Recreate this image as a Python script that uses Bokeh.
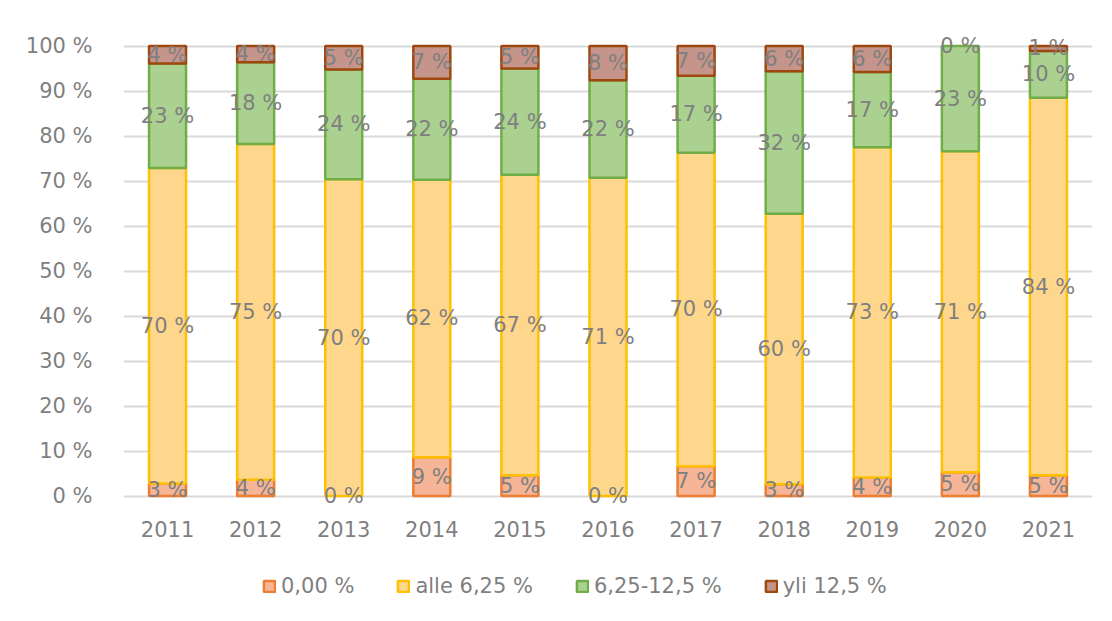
from bokeh.plotting import figure
from bokeh.layouts import column
from bokeh.models import ColumnDataSource, Range1d, FixedTicker, Legend, LegendItem, FactorRange
from bokeh.core.properties import value
from bokeh.embed import file_html
from bokeh.resources import INLINE

years = ["2011", "2012", "2013", "2014", "2015", "2016", "2017", "2018", "2019", "2020", "2021"]
series_names = ["0,00 %", "alle 6,25 %", "6,25-12,5 %", "yli 12,5 %"]
s_zero = [2.8, 3.6, 0.0, 8.6, 4.6, 0.0, 6.6, 2.6, 4.1, 5.3, 4.6]
s_alle = [70.1, 74.6, 70.4, 61.7, 66.8, 70.7, 69.7, 60.1, 73.4, 71.3, 83.9]
s_mid = [23.2, 18.2, 24.4, 22.4, 23.6, 21.7, 17.1, 31.7, 16.7, 23.4, 10.4]
s_yli = [3.9, 3.6, 5.2, 7.3, 5.0, 7.6, 6.6, 5.6, 5.8, 0.0, 1.1]
y_ticks = [0, 10, 20, 30, 40, 50, 60, 70, 80, 90, 100]

fills = ["#F5B596", "#FFD78C", "#AAD190", "#C5948A"]
lines = ["#ED7D31", "#FFC000", "#70AD47", "#9E480E"]

FONT = "DejaVu Sans"
GRAY = "#7f7f7f"

p = figure(x_range=FactorRange(*years), y_range=Range1d(-3, 103),
           width=1104, height=560, output_backend="svg", toolbar_location=None,
           min_border_left=123, min_border_right=12, min_border_top=32, min_border_bottom=51)
p.outline_line_color = None
p.background_fill_color = "white"

all_series = [s_zero, s_alle, s_mid, s_yli]
bottom = [0.0] * len(years)
sources = []
for i, ser in enumerate(all_series):
    top = [b + v for b, v in zip(bottom, ser)]
    src = ColumnDataSource(dict(
        x=years, bottom=bottom, top=top,
        la=[1.0 if v > 0 else 0.0 for v in ser],
        mid=[b + v / 2 for b, v in zip(bottom, ser)],
        lab=[f"{round(v)} %" for v in ser],
    ))
    p.vbar(x="x", bottom="bottom", top="top", width=0.42, source=src,
           fill_color=fills[i], line_color=lines[i], line_width=2.5, line_alpha="la")
    sources.append(src)
    bottom = top

for src in sources:
    p.text(x="x", y="mid", text="lab", source=src, text_font=value(FONT),
           text_font_size="21px", text_color=GRAY, text_align="center", text_baseline="middle")

p.yaxis.ticker = FixedTicker(ticks=y_ticks)
p.yaxis.major_label_overrides = {t: f"{t} %" for t in y_ticks}
p.yaxis.axis_line_color = None
p.yaxis.major_tick_line_color = None
p.yaxis.minor_tick_line_color = None
p.yaxis.major_label_text_font = FONT
p.yaxis.major_label_text_font_size = "21px"
p.yaxis.major_label_text_color = GRAY
p.yaxis.major_label_standoff = 25

p.xaxis.axis_line_color = None
p.xaxis.major_tick_line_color = None
p.xaxis.major_label_text_font = FONT
p.xaxis.major_label_text_font_size = "21px"
p.xaxis.major_label_text_color = GRAY
p.xaxis.major_label_standoff = 5

p.xgrid.grid_line_color = None
p.ygrid.grid_line_color = "#d9d9d9"
p.ygrid.grid_line_width = 2
p.ygrid.ticker = FixedTicker(ticks=y_ticks)

# legend strip
p2 = figure(width=1104, height=53, output_backend="svg", toolbar_location=None,
            x_range=Range1d(0, 1), y_range=Range1d(0, 1), min_border=0)
p2.outline_line_color = None
p2.axis.visible = False
p2.grid.visible = False
items = []
for i, name in enumerate(series_names):
    # tiny proxy glyph hidden under the opaque legend box; only its style is used by the legend
    r = p2.vbar(x=[0.5], bottom=[0.5], top=[0.5001], width=0.0001,
                fill_color=fills[i], line_color=lines[i], line_width=2.5)
    items.append(LegendItem(label=name, renderers=[r]))
legend = Legend(items=items, orientation="horizontal", location=(139, 15),
                glyph_width=14, glyph_height=14, label_standoff=5, spacing=42,
                label_text_font=FONT, label_text_font_size="21px", label_text_color=GRAY,
                border_line_color=None, background_fill_color="white", background_fill_alpha=1,
                margin=0, padding=0)
p2.add_layout(legend)

layout = column(p, p2, spacing=0)
open("out.html", "w").write(file_html(layout, INLINE))
